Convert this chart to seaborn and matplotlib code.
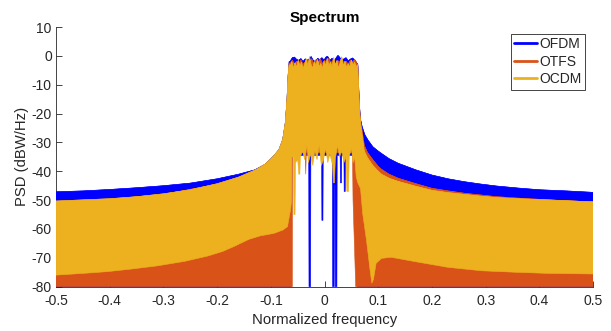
import numpy as np
import pandas as pd
import matplotlib
matplotlib.use("Agg")
import matplotlib.pyplot as plt
import seaborn as sns
from matplotlib.lines import Line2D

# ---------------- data (envelopes) ----------------
series_names = ["OFDM", "OTFS", "OCDM"]
series_colors = ["#0000FF", "#D95319", "#EDB120"]

# OFDM upper envelope
ofdm_up_f = [-0.5, -0.45, -0.4, -0.35, -0.3, -0.25, -0.2, -0.16, -0.13, -0.11, -0.095, -0.085, -0.078, -0.073, -0.07, -0.068, -0.066,
             -0.064, -0.060, -0.056, -0.052, -0.048, -0.044, -0.040, -0.036, -0.032, -0.028, -0.025, -0.021, -0.017, -0.013, -0.009,
             -0.005, -0.001, 0.003, 0.006, 0.010, 0.014, 0.018, 0.022, 0.025, 0.028, 0.032, 0.036, 0.040, 0.044, 0.048, 0.052,
             0.056, 0.060, 0.062,
             0.063, 0.065, 0.067, 0.07, 0.075, 0.081, 0.09, 0.1, 0.106, 0.12, 0.137, 0.17, 0.2, 0.23, 0.26, 0.29, 0.32, 0.36,
             0.4, 0.45, 0.5]
ofdm_up_v = [-47.1, -46.8, -46.3, -45.7, -45.0, -44.1, -42.6, -41.0, -39.5, -37.5, -34.7, -32.5, -29.0, -23.0, -15.0, -7.0, -2.0,
             -1.8, -0.6, -0.4, -1.2, -1.5, -0.9, -1.9, -1.0, -1.6, -0.9, -0.2, -1.5, -2.0, -0.8, -1.3,
             -0.6, -1.4, -0.3, -0.2, -1.5, -0.8, -1.8, -0.5, 0.2, -0.4, -1.6, -1.0, -0.6, -1.7, -1.1, -0.7,
             -1.3, -2.4, -3.0,
             -8.0, -17.0, -22.0, -24.5, -27.3, -29.2, -31.5, -33.0, -33.8, -35.6, -37.2, -39.5, -41.3, -42.6, -43.6, -44.4, -45.1, -45.8,
             -46.4, -46.8, -47.3]
# OFDM lower envelope
ofdm_lo_f = [-0.5, -0.062, -0.061, -0.05, -0.035, -0.0295, -0.029, -0.026, -0.0255, -0.015, -0.0055, -0.005, -0.003, -0.0025,
             0.012, 0.0145, 0.015, 0.018, 0.0185, 0.0195, 0.020, 0.023, 0.0235, 0.029, 0.0295, 0.0315, 0.032, 0.036, 0.0365,
             0.0385, 0.039, 0.050, 0.060, 0.061, 0.5]
ofdm_lo_v = [-80, -80, -34.5, -34.5, -34.5, -34.5, -80, -80, -34.5, -34.5, -34.5, -57, -57, -34.5,
             -34.5, -34.5, -80, -80, -45, -45, -80, -80, -34.5, -34.5, -44, -44, -34.5, -34.5, -47,
             -47, -34.5, -34.5, -34.5, -80, -80]

# OTFS upper envelope
otfs_up_f = [-0.5, -0.4, -0.3, -0.2, -0.16, -0.12, -0.095, -0.085, -0.078, -0.073, -0.07, -0.068, -0.066,
             -0.064, -0.060, -0.056, -0.052, -0.048, -0.044, -0.040, -0.036, -0.032, -0.028, -0.024, -0.020, -0.016, -0.012,
             -0.008, -0.004, 0.000, 0.004, 0.008, 0.012, 0.016, 0.020, 0.024, 0.028, 0.032, 0.036, 0.040, 0.044, 0.048,
             0.052, 0.056, 0.060, 0.062,
             0.063, 0.065, 0.067, 0.07, 0.074, 0.08, 0.09, 0.1, 0.106, 0.12, 0.137, 0.17, 0.2, 0.23, 0.26, 0.29, 0.32,
             0.36, 0.4, 0.45, 0.5]
otfs_up_v = [-50.5, -49.7, -48.0, -44.5, -42.2, -39.0, -35.0, -33.0, -29.5, -24.0, -16.0, -8.0, -2.5,
             -2.5, -1.5, -2.8, -1.8, -2.6, -1.4, -2.9, -2.0, -1.2, -2.4, -1.0, -2.6, -1.3, -2.2,
             -1.0, -2.7, -1.5, -2.3, -0.9, -2.5, -1.2, -2.8, -1.6, -2.0, -0.8, -2.6, -1.8, -2.9, -1.5,
             -2.2, -1.2, -2.5, -3.5,
             -9.0, -18.0, -22.5, -26.0, -31.0, -33.5, -36.0, -38.3, -39.3, -41.0, -42.4, -44.3, -45.9, -46.8, -47.6, -48.2, -48.8,
             -49.3, -49.7, -50.2, -50.6]
# OTFS lower envelope
otfs_lo_f = [-0.5, -0.060, -0.0595, -0.05, -0.036, -0.035, -0.034, -0.02, 0.0, 0.02, 0.04, 0.052, 0.053, 0.058, 0.5]
otfs_lo_v = [-80, -80, -33.5, -33.5, -33.5, -41, -33.5, -33.5, -33.5, -33.5, -33.5, -33.5, -50, -80, -80]

# OCDM upper envelope
ocdm_up_f = [-0.5, -0.45, -0.4, -0.35, -0.3, -0.25, -0.2, -0.16, -0.13, -0.11, -0.095, -0.085, -0.078, -0.073, -0.07, -0.068, -0.066,
             -0.064, -0.061, -0.058, -0.055, -0.052, -0.049, -0.046, -0.043, -0.040, -0.037, -0.034, -0.031, -0.028, -0.025,
             -0.022, -0.019, -0.016, -0.013, -0.010, -0.007, -0.004, -0.001, 0.002, 0.005, 0.008, 0.011, 0.014, 0.017, 0.020,
             0.023, 0.026, 0.029, 0.032, 0.035, 0.038, 0.041, 0.044, 0.047, 0.050, 0.053, 0.056, 0.059, 0.061, 0.062,
             0.063, 0.065, 0.067, 0.07, 0.074, 0.08, 0.09, 0.1, 0.106, 0.12, 0.137, 0.17, 0.2, 0.23, 0.26, 0.29, 0.32, 0.36,
             0.4, 0.45, 0.5]
ocdm_up_v = [-50.3, -49.9, -49.5, -48.8, -47.8, -46.4, -44.3, -42.0, -39.6, -37.5, -34.7, -32.5, -29.0, -23.0, -15.0, -7.0, -3.0,
             -3.5, -2.0, -4.2, -2.4, -3.9, -1.5, -3.6, -2.2, -4.5, -2.8, -1.0, -3.7, -0.2, -3.1,
             -4.2, -2.0, -3.5, -1.2, -3.8, -2.6, -4.4, -1.9, -3.3, -0.8, -3.6, -2.1, -4.0, -0.5, -3.2,
             -1.6, -4.3, -2.4, -0.3, -3.5, -1.8, -4.1, -2.7, -3.9, -1.4, -3.3, -2.2, -4.0, -3.0, -5.0,
             -10.0, -19.0, -23.5, -27.5, -33.0, -35.3, -38.0, -40.0, -41.0, -42.4, -43.5, -45.2, -46.6, -47.4, -48.0, -48.6, -49.1, -49.5,
             -49.8, -50.2, -50.6]
# OCDM lower envelope
ocdm_lo_f = [-0.5, -0.45, -0.405, -0.36, -0.312, -0.26, -0.218, -0.19, -0.169, -0.141, -0.12, -0.094, -0.078, -0.069, -0.066,
             -0.063, -0.0615, -0.061,
             -0.058, -0.057, -0.055, -0.054, -0.050, -0.048, -0.046, -0.045, -0.041, -0.037, -0.033, -0.030, -0.026, -0.022,
             -0.018, -0.014, -0.010, -0.006, -0.002, 0.002, 0.006, 0.010, 0.015, 0.0165, 0.0185, 0.020, 0.024, 0.028, 0.032,
             0.036, 0.040, 0.0415, 0.0445, 0.046, 0.050, 0.053, 0.056, 0.059,
             0.062, 0.067, 0.071, 0.078, 0.084, 0.088, 0.091, 0.096, 0.106, 0.124, 0.168, 0.23, 0.293, 0.355, 0.417, 0.5]
ocdm_lo_v = [-76.0, -75.4, -74.8, -73.9, -72.8, -71.2, -69.4, -67.8, -66.1, -63.6, -62.4, -61.5, -60.4, -59.2, -56.0,
             -53.0, -50.0, -35.0,
             -35.0, -55.0, -55.0, -37.0, -36.0, -41.0, -41.0, -35.0, -33.0, -36.0, -31.0, -37.0, -34.0, -38.0,
             -33.0, -36.0, -31.0, -38.0, -36.0, -32.0, -37.0, -34.0, -38.0, -44.0, -44.0, -36.0, -31.0, -35.0, -33.0,
             -37.0, -35.0, -47.0, -47.0, -35.0, -32.0, -37.0, -35.0, -42.0,
             -44.0, -46.0, -54.6, -63.8, -73.1, -78.8, -77.5, -71.9, -70.2, -69.8, -71.3, -73.3, -74.5, -75.0, -75.4, -75.6]

x_ticks = [-0.5, -0.4, -0.3, -0.2, -0.1, 0, 0.1, 0.2, 0.3, 0.4, 0.5]
x_tick_labels = ["-0.5", "-0.4", "-0.3", "-0.2", "-0.1", "0", "0.1", "0.2", "0.3", "0.4", "0.5"]
y_ticks = [-80, -70, -60, -50, -40, -30, -20, -10, 0, 10]
y_tick_labels = ["-80", "-70", "-60", "-50", "-40", "-30", "-20", "-10", "0", "10"]

envelopes = [
    (ofdm_up_f, ofdm_up_v, ofdm_lo_f, ofdm_lo_v),
    (otfs_up_f, otfs_up_v, otfs_lo_f, otfs_lo_v),
    (ocdm_up_f, ocdm_up_v, ocdm_lo_f, ocdm_lo_v),
]

# ---------------- plotting ----------------
sns.set_theme(style="ticks")
plt.rcParams["font.family"] = ["Liberation Sans", "DejaVu Sans"]
ink = "#262626"

fig = plt.figure(figsize=(6.11, 3.31), dpi=100)
ax = fig.add_axes([0.0917, 0.134, 0.879, 0.784])

for name, col, (uf, uv, lf, lv) in zip(series_names, series_colors, envelopes):
    poly_x = list(uf) + list(lf)[::-1]
    poly_y = list(uv) + list(lv)[::-1]
    ax.fill(poly_x, poly_y, color=col, lw=0.4, ec=col, zorder=3)
    df = pd.DataFrame({"f": uf, "psd": uv})
    sns.lineplot(data=df, x="f", y="psd", color=col, lw=0.4, ax=ax,
                 estimator=None, sort=False, zorder=3, legend=False)

ax.set_xlim(-0.5, 0.5)
ax.set_ylim(-80, 10)
ax.set_xticks(x_ticks)
ax.set_xticklabels(x_tick_labels)
ax.set_yticks(y_ticks)
ax.set_yticklabels(y_tick_labels)
ax.tick_params(direction="in", length=4, width=0.6, colors=ink, labelsize=10)
ax.tick_params(axis="x", pad=5)
ax.tick_params(axis="y", pad=3)
for s in ["top", "right"]:
    ax.spines[s].set_visible(False)
for s in ["left", "bottom"]:
    ax.spines[s].set_color(ink)
    ax.spines[s].set_linewidth(0.6)
    ax.spines[s].set_zorder(2)

ax.set_xlabel("Normalized frequency", fontsize=10.7, color=ink, labelpad=4)
ax.set_ylabel("PSD (dBW/Hz)", fontsize=10.7, color=ink, labelpad=2)
ax.set_title("Spectrum", fontsize=11, fontweight="bold", color="black", pad=4)

handles = [Line2D([0], [0], color=c, lw=2) for c in series_colors]
leg = ax.legend(handles, series_names, loc="upper right", bbox_to_anchor=(0.985, 0.975),
                borderaxespad=0, fontsize=10, frameon=True, fancybox=False,
                edgecolor=ink, framealpha=1, handlelength=1.6, handletextpad=0.2,
                labelspacing=0.25, borderpad=0.25)
leg.get_frame().set_linewidth(0.6)
leg.set_zorder(5)

fig.savefig("out.png", dpi=100)
